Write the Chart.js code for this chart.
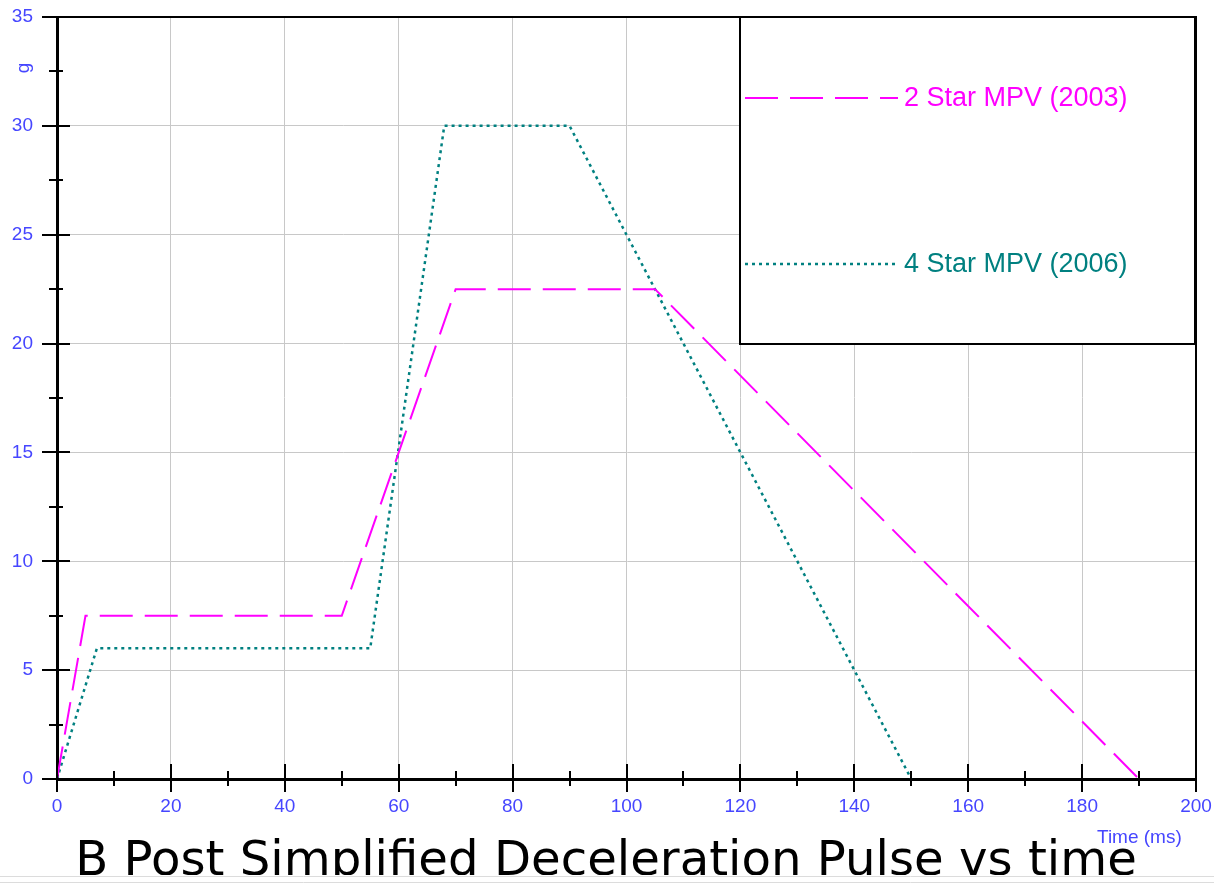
<!DOCTYPE html>
<html>
<head>
<meta charset="utf-8">
<script src="https://cdn.jsdelivr.net/npm/chart.js@4/dist/chart.umd.min.js"></script>
<style>
  body { margin: 0; background: #fff; }
  #wrap { width: 1214px; height: 885px; }
</style>
</head>
<body>
<div id="wrap"><canvas id="pulseChart"></canvas></div>
<script>
// time (ms) and deceleration (g) for each rating
var seriesNames = ['2 Star MPV (2003)', '4 Star MPV (2006)'];
var time2Star = [0, 5, 50, 70, 105, 190];
var g2Star = [0, 7.5, 7.5, 22.5, 22.5, 0];
var time4Star = [0, 7, 55, 68, 90, 150];
var g4Star = [0, 6, 6, 30, 30, 0];
var xTickLabels = [0, 20, 40, 60, 80, 100, 120, 140, 160, 180, 200];
var yTickLabels = [0, 5, 10, 15, 20, 25, 30, 35];

var blue = '#4646ff';
var gridGrey = '#c8c8c8';

function toPoints(xs, ys) {
    return xs.map(function(x, i) { return { x: x, y: ys[i] }; });
}

// keep label overhang out of the layout, the padding below fixes the plot box
function noLabelPadding(scale) {
    scale.paddingTop = 0;
    scale.paddingBottom = 0;
    scale.paddingLeft = 0;
    scale.paddingRight = 0;
}

// extra drawing: crossing tick marks, frame, legend box and captions
var decorations = {
    id: 'decorations',
    beforeDatasetsDraw: function(chart) {
        var ctx = chart.ctx;
        var a = chart.chartArea;
        // legend box sits on top of the grid
        var bx = 740, by = a.top, bw = a.right - 1 - bx, bh = 327;
        ctx.save();
        ctx.fillStyle = '#fff';
        ctx.fillRect(bx, by, bw, bh);
        ctx.strokeStyle = '#000';
        ctx.lineWidth = 2;
        ctx.strokeRect(bx, by, bw, bh);
        var rows = [98, 264];
        chart.data.datasets.forEach(function(ds, i) {
            ctx.strokeStyle = ds.borderColor;
            ctx.lineWidth = ds.borderWidth;
            ctx.setLineDash(ds.borderDash);
            ctx.beginPath();
            ctx.moveTo(745, rows[i]);
            ctx.lineTo(898, rows[i]);
            ctx.stroke();
            ctx.setLineDash([]);
            ctx.fillStyle = ds.borderColor;
            ctx.font = '27px "Liberation Sans", Arial, sans-serif';
            ctx.textAlign = 'left';
            ctx.textBaseline = 'middle';
            ctx.fillText(ds.label, 904, rows[i] + 1);
        });
        ctx.restore();
    },
    afterDraw: function(chart) {
        var ctx = chart.ctx;
        var a = chart.chartArea;
        var xs = chart.scales.x, ys = chart.scales.y;
        ctx.save();
        ctx.strokeStyle = '#000';
        // top and right frame
        ctx.lineWidth = 2;
        ctx.beginPath();
        ctx.moveTo(a.left, a.top);
        ctx.lineTo(a.right, a.top);
        ctx.lineTo(a.right, a.bottom);
        ctx.stroke();
        // tick marks crossing the axes
        ctx.lineWidth = 2;
        ys.ticks.forEach(function(t) {
            var py = Math.round(ys.getPixelForValue(t.value));
            var major = t.value % 5 === 0;
            ctx.beginPath();
            ctx.moveTo(a.left - (major ? 15 : 8), py);
            ctx.lineTo(a.left + (major ? 13 : 6), py);
            ctx.stroke();
        });
        xs.ticks.forEach(function(t) {
            var px = Math.round(xs.getPixelForValue(t.value));
            var major = t.value % 20 === 0;
            ctx.beginPath();
            ctx.moveTo(px, a.bottom - (major ? 15 : 8));
            ctx.lineTo(px, a.bottom + (major ? 13 : 7));
            ctx.stroke();
        });
        // axis captions
        ctx.fillStyle = blue;
        ctx.font = '19px "Liberation Sans", Arial, sans-serif';
        ctx.textAlign = 'left';
        ctx.textBaseline = 'middle';
        ctx.fillText('Time (ms)', 1097, 838);
        ctx.save();
        ctx.translate(24, 68);
        ctx.rotate(-Math.PI / 2);
        ctx.textAlign = 'center';
        ctx.fillText('g', 0, 0);
        ctx.restore();
        // slide title, clipped at the bottom rule
        ctx.save();
        ctx.beginPath();
        ctx.rect(0, 0, chart.width, 875);
        ctx.clip();
        var title = 'B Post Simplified Deceleration Pulse vs time';
        ctx.font = '48px "DejaVu Sans", Verdana, sans-serif';
        var size = 48 * 1062 / ctx.measureText(title).width;
        ctx.font = size.toFixed(1) + 'px "DejaVu Sans", Verdana, sans-serif';
        ctx.fillStyle = '#000';
        ctx.textAlign = 'center';
        ctx.textBaseline = 'alphabetic';
        ctx.fillText(title, 606, 875);
        ctx.restore();
        ctx.strokeStyle = '#dcdcdc';
        ctx.lineWidth = 1;
        ctx.beginPath();
        ctx.moveTo(0, 876.5);
        ctx.lineTo(chart.width, 876.5);
        ctx.moveTo(0, 882.5);
        ctx.lineTo(chart.width, 882.5);
        ctx.stroke();
        ctx.restore();
    }
};

var ctx = document.getElementById('pulseChart').getContext('2d');
var pulseChart = new Chart(ctx, {
    type: 'line',
    data: {
        datasets: [{
            label: seriesNames[0],
            data: toPoints(time2Star, g2Star),
            borderColor: '#ff00ff',
            borderWidth: 2,
            borderDash: [33, 12],
            pointRadius: 0,
            tension: 0,
            fill: false
        }, {
            label: seriesNames[1],
            data: toPoints(time4Star, g4Star),
            borderColor: '#008080',
            borderWidth: 2.5,
            borderDash: [3, 4],
            pointRadius: 0,
            tension: 0,
            fill: false
        }]
    },
    options: {
        responsive: true,
        maintainAspectRatio: false,
        animation: false,
        layout: {
            padding: { left: 0, top: 17, right: 18, bottom: 0 }
        },
        plugins: {
            legend: { display: false },
            title: { display: false },
            tooltip: { enabled: false }
        },
        scales: {
            x: {
                type: 'linear',
                min: 0,
                max: 200,
                afterFit: function(scale) { scale.height = 106; noLabelPadding(scale); },
                ticks: {
                    stepSize: 10,
                    autoSkip: false,
                    maxRotation: 0,
                    padding: 16,
                    color: blue,
                    font: { family: '"Liberation Sans", Arial, sans-serif', size: 19 },
                    callback: function(v) { return xTickLabels.indexOf(v) >= 0 ? String(v) : ''; }
                },
                grid: {
                    drawTicks: false,
                    lineWidth: 1,
                    color: function(c) { return c.tick && c.tick.value % 20 === 0 ? gridGrey : 'rgba(0,0,0,0)'; }
                },
                border: { display: true, color: '#000', width: 3 }
            },
            y: {
                min: 0,
                max: 35,
                afterFit: function(scale) { scale.width = 57; noLabelPadding(scale); },
                ticks: {
                    stepSize: 2.5,
                    autoSkip: false,
                    padding: 24,
                    color: blue,
                    font: { family: '"Liberation Sans", Arial, sans-serif', size: 19 },
                    callback: function(v) { return yTickLabels.indexOf(v) >= 0 ? String(v) : ''; }
                },
                grid: {
                    drawTicks: false,
                    lineWidth: 1,
                    color: function(c) { return c.tick && c.tick.value % 5 === 0 ? gridGrey : 'rgba(0,0,0,0)'; }
                },
                border: { display: true, color: '#000', width: 3 }
            }
        }
    },
    plugins: [decorations]
});
</script>
</body>
</html>
